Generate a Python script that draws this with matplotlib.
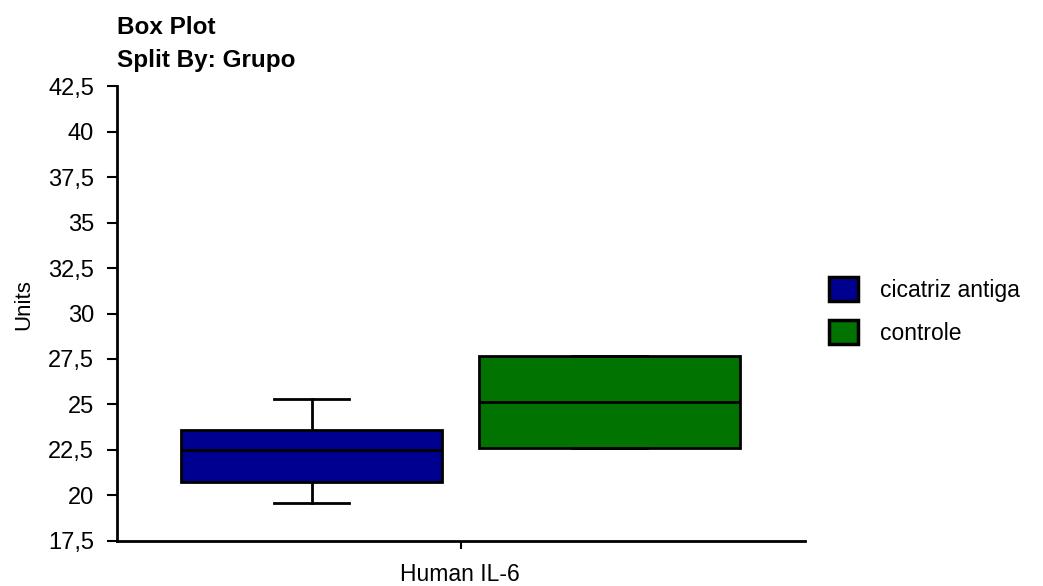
import matplotlib
matplotlib.use("Agg")
import matplotlib.pyplot as plt
from matplotlib.patches import Patch
from matplotlib.ticker import FuncFormatter

plt.rcParams["font.family"] = ["Liberation Sans", "DejaVu Sans"]

# summary statistics per group (Human IL-6, Units)
groups = ["cicatriz antiga", "controle"]
colors = ["#000090", "#007300"]
whislo = [19.57, 22.6]
q1 = [20.74, 22.6]
med = [22.5, 25.16]
q3 = [23.6, 27.65]
whishi = [25.3, 27.65]
positions = [0.283, 0.716]

yticks = [17.5, 20, 22.5, 25, 27.5, 30, 32.5, 35, 37.5, 40, 42.5]

fig = plt.figure(figsize=(10.43, 5.86), dpi=100)
ax = fig.add_axes([0.112, 0.077, 0.660, 0.776])

stats = []
for i, g in enumerate(groups):
    stats.append(dict(label=g, whislo=whislo[i], q1=q1[i], med=med[i],
                      q3=q3[i], whishi=whishi[i], fliers=[]))

bp = ax.bxp(stats, positions=positions, widths=0.38, patch_artist=True,
            showfliers=False, capwidths=0.109,
            boxprops=dict(linewidth=2, edgecolor="black"),
            medianprops=dict(color="black", linewidth=2),
            whiskerprops=dict(color="black", linewidth=2),
            capprops=dict(color="black", linewidth=2))
for box, c in zip(bp["boxes"], colors):
    box.set_facecolor(c)

ax.set_xlim(0, 1)
ax.set_ylim(17.5, 42.5)
ax.set_xticks([0.5])
ax.set_xticklabels([""])
ax.set_yticks(yticks)
ax.yaxis.set_major_formatter(FuncFormatter(lambda v, p: f"{v:g}".replace(".", ",")))
ax.tick_params(axis="y", labelsize=17, length=7, width=1.5, direction="out", pad=9.5)
ax.tick_params(axis="x", length=6, width=1.5, direction="out")
for side in ("top", "right"):
    ax.spines[side].set_visible(False)
for side in ("left", "bottom"):
    ax.spines[side].set_linewidth(2)

ax.set_ylabel("Units", fontsize=16)
ax.yaxis.set_label_coords(-0.120, 0.52)
fig.text(0.441, 0.009, "Human IL-6", ha="center", va="baseline", fontsize=16.5)

fig.text(0.112, 0.942, "Box Plot", fontsize=17.5, fontweight="bold", va="baseline")
fig.text(0.112, 0.886, "Split By: Grupo", fontsize=17.5, fontweight="bold", va="baseline")

handles = [Patch(facecolor=c, edgecolor="black", linewidth=2.5) for c in colors]
fig.legend(handles, groups, loc="upper left", bbox_to_anchor=(0.795, 0.527),
           frameon=False, fontsize=16.5, handlelength=1.25, handleheight=1.25,
           handletextpad=0.95, labelspacing=0.78, borderpad=0, borderaxespad=0)

fig.savefig("out.png", dpi=100)
